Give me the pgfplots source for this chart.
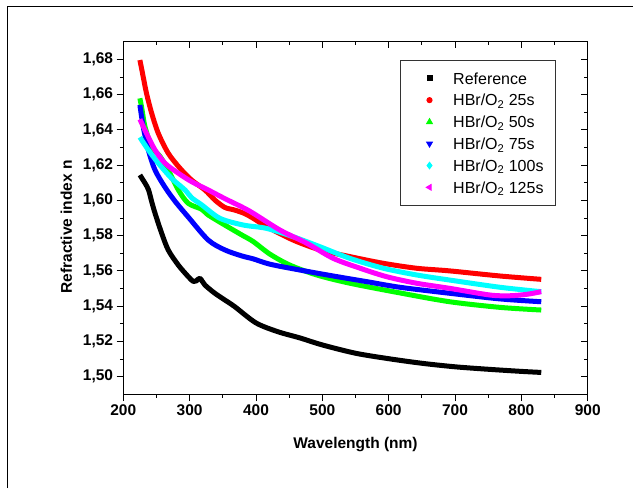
\documentclass[border=0pt]{standalone}
\usepackage{fontspec}
\setmainfont{Liberation Sans}
\usepackage{pgfplots}
\pgfplotsset{compat=1.18}
\usepackage{pgfplotstable}

\pgfplotstableread{
x y
225 1.6144
229 1.6120
233 1.6096
238 1.6060
243 1.5990
248 1.5925
257.9 1.5813
267.8 1.5718
282.9 1.5633
298 1.5567
305.5 1.5540
310 1.5543
315.6 1.5558
323 1.5520
338 1.5473
353 1.5435
368 1.5397
400 1.5305
433 1.5255
466 1.5220
500 1.5180
550 1.5133
600 1.5102
650 1.5076
700 1.5056
750 1.5042
800 1.5030
830 1.5024
}\refdata

\pgfplotstableread{
x y
225 1.6796
230 1.6701
235 1.6607
242.8 1.6494
252.8 1.6380
267.8 1.6267
285.5 1.6182
303 1.6115
323 1.6059
338 1.6002
353 1.5960
368 1.5945
383 1.5925
396 1.5898
416 1.5851
456 1.5775
496.5 1.5719
541.6 1.5681
592 1.5643
642 1.5615
692 1.5600
768 1.5571
830 1.5552
}\reddata

\pgfplotstableread{
x y
225 1.6579
228 1.6520
232.7 1.6418
242.8 1.6304
255.3 1.6250
267.8 1.6172
283 1.6059
298 1.5983
318 1.5950
328 1.5917
353 1.5860
378.5 1.5804
396 1.5766
421 1.5695
451 1.5633
491.5 1.5577
541.6 1.5530
617 1.5475
692 1.5425
768 1.5393
830 1.5378
}\greendata

\pgfplotstableread{
x y
225 1.6541
230 1.6418
237.7 1.6286
247.8 1.6172
262.8 1.6075
278 1.5995
298 1.5905
328 1.5775
353 1.5719
378.5 1.5685
396 1.5668
421 1.5638
466 1.5605
516.5 1.5571
567 1.5539
617 1.5507
692 1.5473
768 1.5441
830 1.5425
}\bluedata

\pgfplotstableread{
x y
225 1.6358
237.7 1.6286
252.8 1.6211
272.8 1.6125
293 1.6059
303 1.6015
318 1.5975
345.8 1.5898
381 1.5860
416 1.5841
456 1.5794
496.5 1.5737
541.6 1.5671
592 1.5615
642 1.5577
692 1.5548
768 1.5507
830 1.5482
}\cyandata

\pgfplotstableread{
x y
225 1.6460
235 1.6380
247.8 1.6286
262.8 1.6211
283 1.6154
303 1.6106
328 1.6059
353 1.6010
390 1.5940
436 1.5832
476.5 1.5757
516.5 1.5671
557 1.5615
597 1.5567
642 1.5530
692 1.5501
753 1.5463
783 1.5459
808 1.5467
830 1.5482
}\magentadata

\definecolor{cRed}{RGB}{255,0,0}
\definecolor{cGreen}{RGB}{0,255,0}
\definecolor{cBlue}{RGB}{0,0,255}
\definecolor{cCyan}{RGB}{0,255,255}
\definecolor{cMag}{RGB}{255,0,255}

\begin{document}
\begin{tikzpicture}[x=1pt,y=1pt]
\useasboundingbox (0,0) rectangle (643,488);
\draw[line width=1.7pt] (7.5,0) -- (7.5,481.5) -- (633,481.5);
\begin{axis}[
  at={(123.3pt,93.7pt)}, anchor=south west,
  scale only axis, width=464.4pt, height=352.6pt,
  xmin=200, xmax=900, ymin=1.49, ymax=1.69,
  xtick={200,300,...,900}, minor x tick num=1,
  ytick={1.50,1.52,...,1.681}, minor y tick num=1,
  xtick pos=bottom, ytick pos=left,
  tick align=outside,
  major tick length=6.7pt, minor tick length=3.5pt,
  every tick/.style={black, line width=0.9pt},
  axis line style={line width=0.9pt},
  /pgf/number format/assume math mode=true,
  yticklabel style={/pgf/number format/.cd, fixed, fixed zerofill, precision=2, use comma},
  xticklabel style={/pgf/number format/.cd, fixed, precision=0, 1000 sep={}},
  ticklabel style={font=\fontsize{15.5}{18}\selectfont\bfseries},
  scaled y ticks=false,
  xlabel={Wavelength (nm)}, ylabel={Refractive index n},
  label style={font=\fontsize{15.5}{18}\selectfont\bfseries},
  xlabel style={at={(axis description cs:0.5,-0.1523)}, anchor=base},
  ylabel style={at={(axis description cs:-0.111,0.475)}, anchor=base},
  legend image code/.code={\path[draw=none,fill=none] (0pt,-3pt) rectangle (34pt,3pt); \draw[mark repeat=2, mark phase=2, #1] plot coordinates {(0pt,0pt) (17pt,0pt) (34pt,0pt)};},
  legend style={at={(0.596,0.948)}, anchor=north west, draw=black!80, line width=0.9pt,
    font=\fontsize{16}{19}\selectfont, inner xsep=12pt, inner ysep=8pt,
    nodes={inner xsep=0pt, inner ysep=0pt, text height=15.7pt, text depth=4pt},
    column sep=6.7pt, row sep=2.1pt},
  legend cell align=left,
]
\addplot[black, line width=5pt, smooth, tension=0.5, line join=round, forget plot] table {\refdata};
\addplot[cRed, line width=5pt, smooth, tension=0.5, line join=round, forget plot] table {\reddata};
\addplot[cGreen, line width=5pt, smooth, tension=0.5, line join=round, forget plot] table {\greendata};
\addplot[cBlue, line width=5pt, smooth, tension=0.5, line join=round, forget plot] table {\bluedata};
\addplot[cCyan, line width=5pt, smooth, tension=0.5, line join=round, forget plot] table {\cyandata};
\addplot[cMag, line width=5pt, smooth, tension=0.5, line join=round, forget plot] table {\magentadata};
\addlegendimage{only marks, mark=square*, black, mark size=2.5pt}
\addlegendentry{Reference}
\addlegendimage{only marks, mark=*, cRed, mark size=2.6pt}
\addlegendentry{HBr/O\textsubscript{2} 25s}
\addlegendimage{only marks, mark=triangle*, cGreen, mark size=3.3pt}
\addlegendentry{HBr/O\textsubscript{2} 50s}
\addlegendimage{only marks, mark=triangle*, cBlue, mark size=3.3pt, mark options={rotate=180}}
\addlegendentry{HBr/O\textsubscript{2} 75s}
\addlegendimage{only marks, mark=diamond*, cCyan, mark size=3.3pt}
\addlegendentry{HBr/O\textsubscript{2} 100s}
\addlegendimage{only marks, mark=triangle*, cMag, mark size=3.3pt, mark options={rotate=90}}
\addlegendentry{HBr/O\textsubscript{2} 125s}
\end{axis}
\begin{axis}[
  at={(123.3pt,93.7pt)}, anchor=south west,
  scale only axis, width=464.4pt, height=352.6pt,
  xmin=200, xmax=900, ymin=1.49, ymax=1.69,
  xtick={200,300,...,900}, minor x tick num=1,
  ytick={1.50,1.52,...,1.681}, minor y tick num=1,
  xtick pos=top, ytick pos=right,
  tick align=inside,
  major tick length=6.7pt, minor tick length=3.5pt,
  every tick/.style={black, line width=0.9pt},
  axis line style={line width=0.9pt},
  xticklabels={}, yticklabels={},
]
\end{axis}
\end{tikzpicture}
\end{document}
